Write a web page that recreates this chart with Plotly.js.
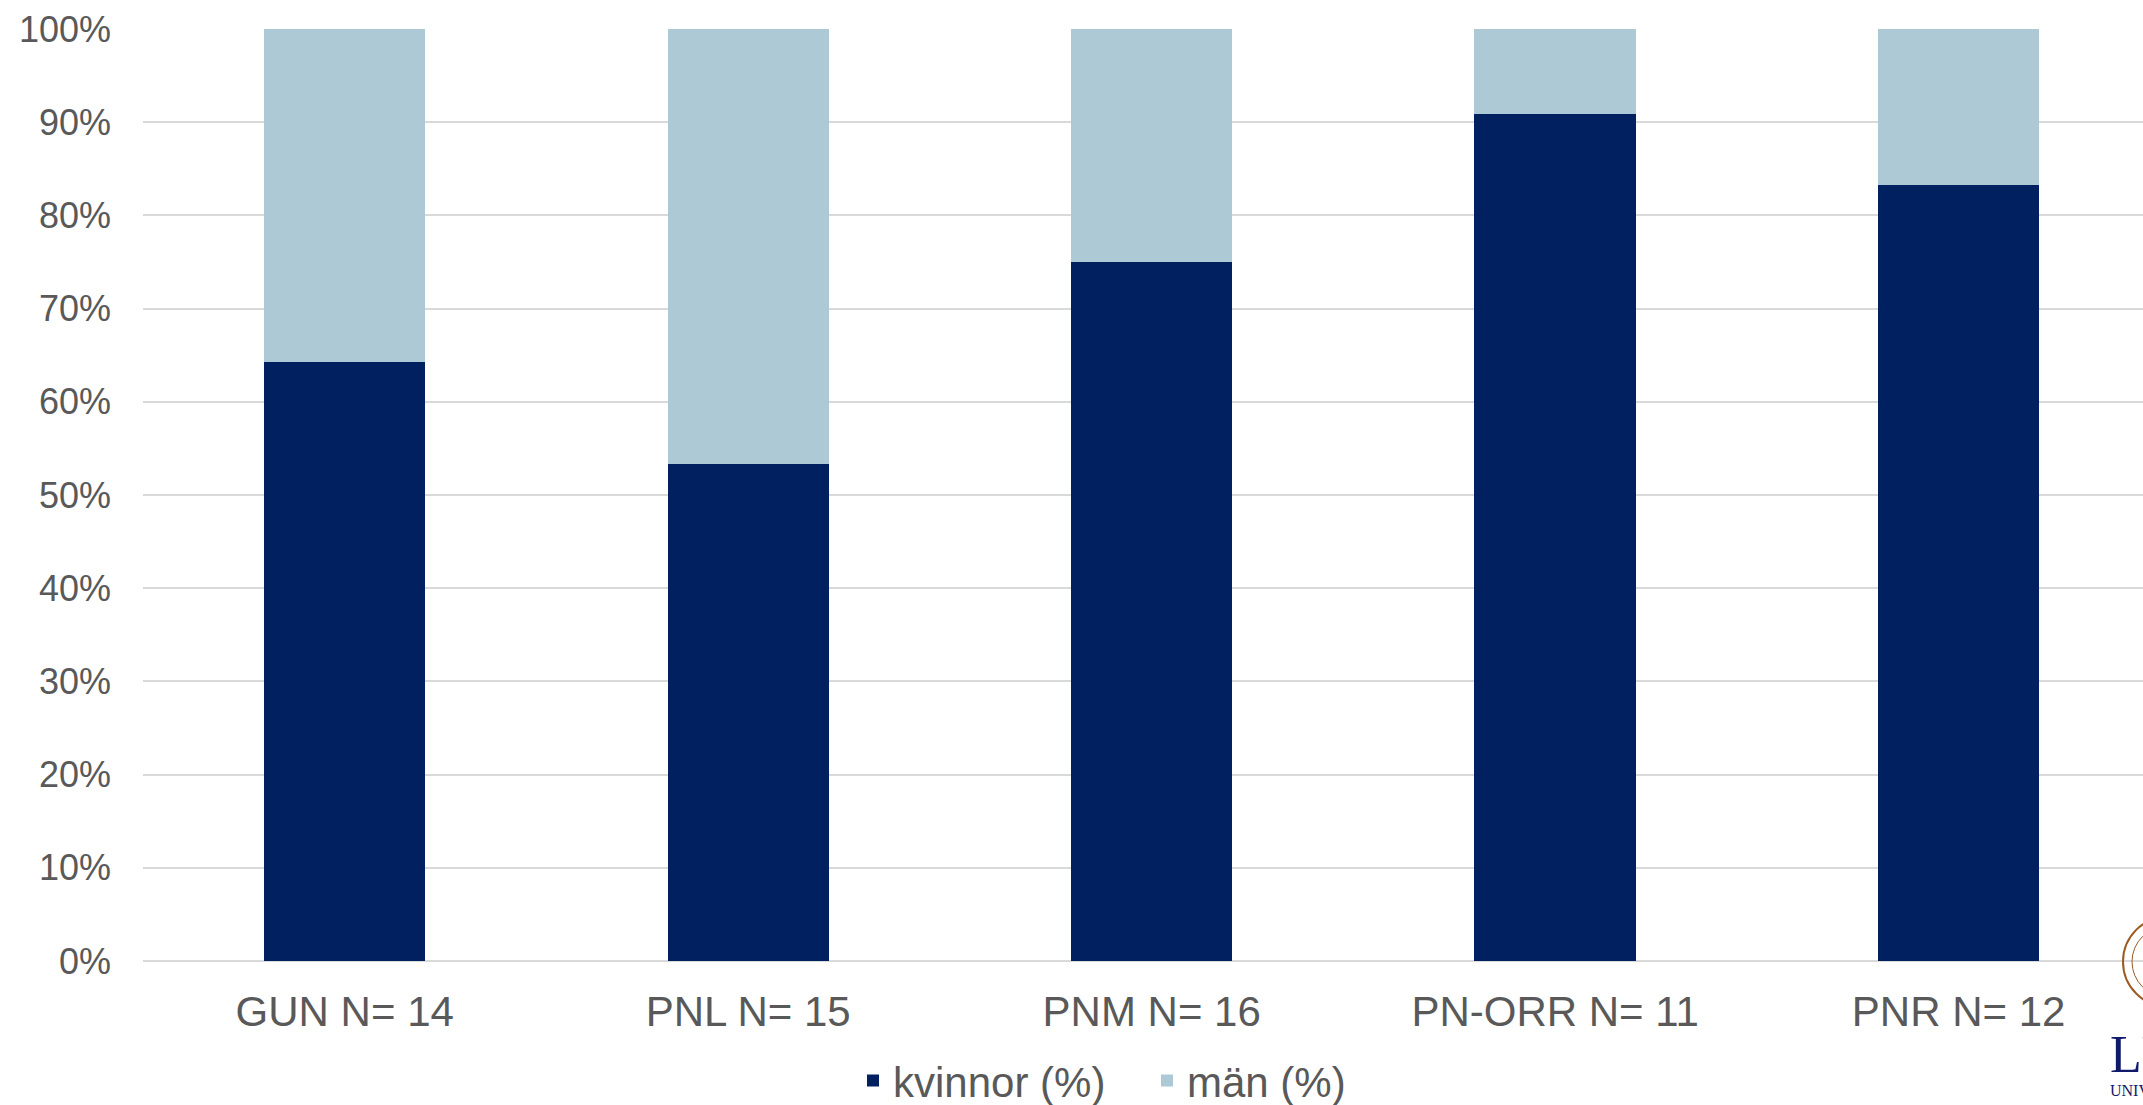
<!DOCTYPE html>
<html>
<head>
<meta charset="utf-8">
<script src="https://cdn.plot.ly/plotly-3.0.1.min.js"></script>
<style>html,body{margin:0;padding:0;overflow:hidden;background:#fff;}</style>
</head>
<body>
<div id="chart" style="width:2143px;height:1105px;"></div>
<script>
const categories = ["GUN N= 14", "PNL N= 15", "PNM N= 16", "PN-ORR N= 11", "PNR N= 12"];
const kvinnor = [64.3, 53.3, 75.0, 90.9, 83.3];
const man = [35.7, 46.7, 25.0, 9.1, 16.7];
const seriesNames = ["kvinnor (%)", "män (%)"];
const yTickVals = [0, 10, 20, 30, 40, 50, 60, 70, 80, 90, 100];
const yTickText = ["0%", "10%", "20%", "30%", "40%", "50%", "60%", "70%", "80%", "90%", "100%"];

const textColor = "#595959";
const traces = [
  {type: "bar", name: seriesNames[0], x: categories, y: kvinnor,
   marker: {color: "#002060"}, hoverinfo: "skip"},
  {type: "bar", name: seriesNames[1], x: categories, y: man,
   marker: {color: "#acc9d5"}, hoverinfo: "skip"}
];

const layout = {
  width: 2143, height: 1105,
  margin: {l: 143, r: 0, t: 29, b: 144, pad: 0, autoexpand: false},
  paper_bgcolor: "#ffffff", plot_bgcolor: "#ffffff",
  barmode: "stack", bargap: 0.6,
  font: {family: "Liberation Sans, Arial, sans-serif", color: textColor},
  xaxis: {
    type: "category", range: [-0.5, 4.457], showgrid: false, zeroline: false,
    showline: false, ticks: "", tickfont: {size: 42, color: textColor},
    ticklabelstandoff: 22, fixedrange: true
  },
  yaxis: {
    range: [0, 100], tickvals: yTickVals, ticktext: yTickText,
    showgrid: true, gridcolor: "#d9d9d9", gridwidth: 2,
    zeroline: true, zerolinecolor: "#d9d9d9", zerolinewidth: 2,
    showline: false, ticks: "", tickfont: {size: 36, color: textColor},
    ticklabelstandoff: 31, fixedrange: true
  },
  showlegend: true,
  legend: {
    orientation: "h", x: 0.355, xanchor: "left", y: -0.165, yanchor: "bottom",
    font: {size: 42, color: textColor}, traceorder: "normal",
    entrywidth: 249, entrywidthmode: "pixels",
    itemclick: false, itemdoubleclick: false, bgcolor: "rgba(0,0,0,0)"
  },
  shapes: [
    {type: "circle", xref: "paper", yref: "paper",
     x0: 0.990, x1: 1.035, y0: 0.0475, y1: -0.049,
     line: {color: "#9b5b22", width: 2}, fillcolor: "rgba(0,0,0,0)"},
    {type: "circle", xref: "paper", yref: "paper",
     x0: 0.9945, x1: 1.0305, y0: 0.0375, y1: -0.039,
     line: {color: "#9b5b22", width: 1}, fillcolor: "rgba(0,0,0,0)"}
  ],
  annotations: [
    {xref: "paper", yref: "paper", x: 0.9825, y: -0.068, xanchor: "left", yanchor: "top",
     text: "LUND", showarrow: false,
     font: {family: "Liberation Serif, serif", size: 52, color: "#101a6b"}},
    {xref: "paper", yref: "paper", x: 0.9825, y: -0.128, xanchor: "left", yanchor: "top",
     text: "UNIVERSITY", showarrow: false,
     font: {family: "Liberation Serif, serif", size: 16, color: "#101a6b"}}
  ]
};

Plotly.newPlot("chart", traces, layout, {staticPlot: true, displayModeBar: false});
</script>
</body>
</html>
